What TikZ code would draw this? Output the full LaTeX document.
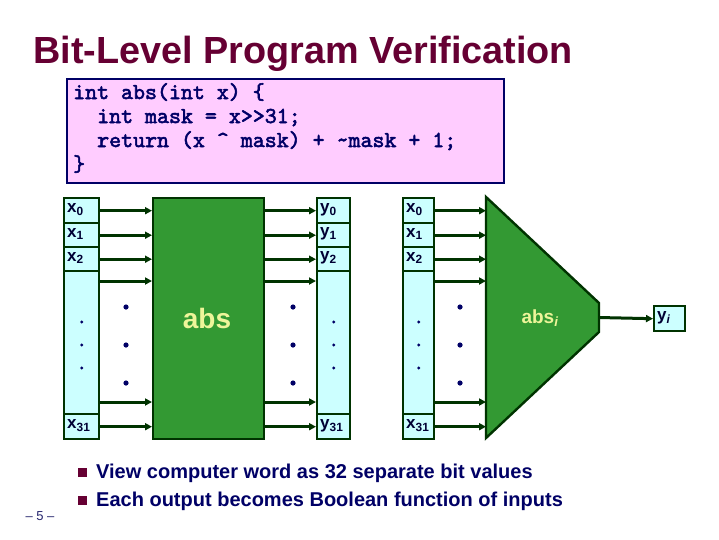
\documentclass[tikz,border=0pt]{standalone}
\usepackage{fontspec}
\setmainfont{Liberation Sans}
\newfontfamily\codefont{lmmono10-regular.otf}[FakeBold=2.4]
\usetikzlibrary{arrows.meta}
\definecolor{titlec}{HTML}{660033}
\definecolor{navy}{HTML}{000066}
\definecolor{labc}{HTML}{000033}
\definecolor{pinkc}{HTML}{FFCCFF}
\definecolor{cyanc}{HTML}{CCFFFF}
\definecolor{greenc}{HTML}{339933}
\definecolor{dkgreen}{HTML}{003300}
\definecolor{abstext}{HTML}{EEF59A}
\begin{document}
\begin{tikzpicture}[x=1pt,y=-1pt,
  cell/.style={draw=dkgreen, line width=2.4pt, fill=cyanc, anchor=north west, inner sep=0pt},
  lab/.style={anchor=west, inner sep=0pt, text=labc, font=\bfseries\fontsize{17}{17}\selectfont},
  arr/.style={draw=dkgreen, line width=3pt, -{Triangle[length=7pt,width=7pt]}},
  codeline/.style={anchor=base west, inner sep=0pt, text=navy, font=\codefont\fontsize{22.8}{24}\selectfont},
  bullettext/.style={anchor=base west, inner sep=0pt, text=navy, font=\bfseries\fontsize{20}{24}\selectfont}]
\useasboundingbox (0,0) rectangle (719,539);
\fill[white] (0,0) rectangle (719,539);

% title
\node[anchor=base west, inner sep=0pt, text=titlec, font=\bfseries\fontsize{37.8}{40}\selectfont] (title) at (33,63) {Bit-Level Program Verification};

% code box
\node[draw=navy, line width=2pt, fill=pinkc, minimum width=437pt, minimum height=104pt, anchor=north west, inner sep=0pt] (code) at (66,78) {};
\node[codeline] (c1) at (73,99) {int abs(int x) \{};
\node[codeline] (c2) at (97,123) {int mask = x>>31;};
\node[codeline] (c3) at (97,147) {return (x \textasciicircum{} mask) + \textasciitilde{}mask + 1;};
\node[codeline] (c4) at (73,171) {\}};

% columns
\foreach \col/\cx/\cw/\v in {A/63/35/x, B/316/33/y, C/402/31/x} {
  \node[cell, minimum width=\cw pt, minimum height=25pt] (\col0) at (\cx,197) {};
  \node[cell, minimum width=\cw pt, minimum height=24pt] (\col1) at (\cx,222) {};
  \node[cell, minimum width=\cw pt, minimum height=24pt] (\col2) at (\cx,246) {};
  \node[cell, minimum width=\cw pt, minimum height=143pt] (\col3) at (\cx,270) {};
  \node[cell, minimum width=\cw pt, minimum height=25pt] (\col4) at (\cx,413) {};
  \node[lab] (\col l0) at ([xshift=4pt,yshift=1pt]\col0.west) {\v\textsubscript{0}};
  \node[lab] (\col l1) at ([xshift=4pt,yshift=1pt]\col1.west) {\v\textsubscript{1}};
  \node[lab] (\col l2) at ([xshift=4pt,yshift=1pt]\col2.west) {\v\textsubscript{2}};
  \node[lab] (\col l4) at ([xshift=4pt,yshift=1pt]\col4.west) {\v\textsubscript{31}};
  \foreach \yy in {322,345,368} {
    \fill[navy] (\col3.center |- 0,\yy) circle (1.6pt);
  }
}

% abs box
\node[draw=dkgreen, line width=2.4pt, fill=greenc, minimum width=111pt, minimum height=241pt, anchor=north west, inner sep=0pt] (absbox) at (152,197) {};
\node[text=abstext, font=\bfseries\fontsize{28}{28}\selectfont, inner sep=0pt] (abslab) at (207,318) {abs};

% trapezoid
\coordinate (t1) at (486,197);
\coordinate (t2) at (599,303);
\coordinate (t3) at (599,332);
\coordinate (t4) at (486,438);
\coordinate (tout) at (599,317.5);
\draw[draw=dkgreen, line width=2.4pt, fill=greenc, line join=miter] (t1) -- (t2) -- (t3) -- (t4) -- cycle;
\node[text=abstext, font=\bfseries\fontsize{19}{19}\selectfont, inner sep=0pt] (absilab) at (540,318) {abs\textsubscript{\itshape i}};

% output yi
\node[cell, minimum width=31pt, minimum height=25pt] (yi) at (653,305) {};
\node[lab] (yil) at ([xshift=4pt,yshift=1pt]yi.west) {y\textsubscript{\itshape i}};

% arrows
\foreach \r in {0,1,2,4} {
  \draw[arr] (A\r.east) -- (A\r.east -| absbox.west);
  \draw[arr] (A\r.east -| absbox.east) -- (B\r.west);
  \draw[arr] (C\r.east) -- (C\r.east -| t1);
}
\foreach \s in {-11,-132} {
  \draw[arr] ([yshift=\s pt]A3.north east) -- ([yshift=\s pt]A3.north east -| absbox.west);
  \draw[arr] ([yshift=\s pt]A3.north east -| absbox.east) -- ([yshift=\s pt]B3.north west);
  \draw[arr] ([yshift=\s pt]C3.north east) -- ([yshift=\s pt]C3.north east -| t1);
}
\draw[arr] (tout) -- (yi.west);

% big dots
\foreach \xx in {126,293,460} {
  \foreach \yy in {307,345,383} {
    \fill[navy] (\xx,\yy) circle (2.6pt);
  }
}

% bullets
\fill[titlec] (78,467.5) rectangle (87,476.5);
\fill[titlec] (78,495.5) rectangle (87,504.5);
\node[bullettext] (b1) at (96,478.5) {View computer word as 32 separate bit values};
\node[bullettext] (b2) at (96,506.5) {Each output becomes Boolean function of inputs};

% page number
\node[text=navy!70!gray, font=\fontsize{13}{13}\selectfont, inner sep=0pt] (pg) at (40,516) {– 5 –};
\end{tikzpicture}
\end{document}
